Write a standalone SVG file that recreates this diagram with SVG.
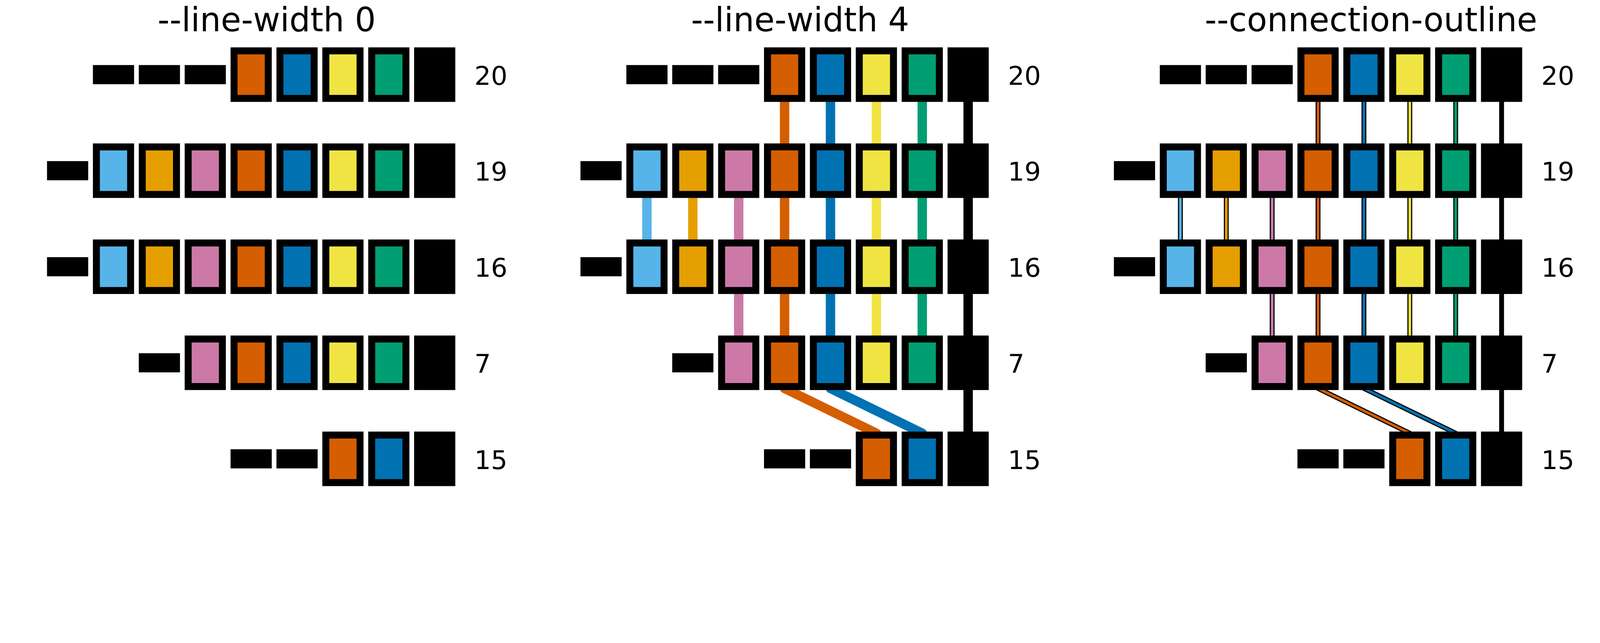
<svg xmlns="http://www.w3.org/2000/svg" width="4934" height="1645" viewBox="0 0 4934 1645" preserveAspectRatio="xMidYMin meet" style="width:100%;height:100%">
<style>
.bg{fill:#fff}
.k{fill:#000}
.sky{fill:#56B4E9}.org{fill:#E69F00}.pnk{fill:#CC79A7}.ver{fill:#D55E00}.blu{fill:#0072B2}.yel{fill:#F0E442}.grn{fill:#009E73}
.t{font-family:"DejaVu Sans","Liberation Sans",sans-serif;fill:#000}
.ttl{font-size:102px;text-anchor:middle}
.lbl{font-size:80px}
.w4{fill:none;stroke-width:29;stroke-linejoin:round;stroke-linecap:butt}
.ol{fill:none;stroke:#000;stroke-width:15;stroke-linejoin:round}
.in{fill:none;stroke-width:8;stroke-linejoin:round}
.s-sky{stroke:#56B4E9}.s-org{stroke:#E69F00}.s-pnk{stroke:#CC79A7}.s-ver{stroke:#D55E00}.s-blu{stroke:#0072B2}.s-yel{stroke:#F0E442}.s-grn{stroke:#009E73}.s-blk{stroke:#000}
</style>
<rect class="bg" x="0" y="0" width="4934" height="1645"/>

<g id="connectors">
  <g id="conn-lw4" transform="translate(1645 0)">
    <path class="w4 s-ver" d="M774.5 230V526"/>
    <path class="w4 s-blu" d="M916 230V526"/>
    <path class="w4 s-yel" d="M1057.5 230V526"/>
    <path class="w4 s-grn" d="M1199 230V526"/>
    <path class="w4 s-blk" d="M1340.5 230V526"/>
    <path class="w4 s-sky" d="M350 526V822"/>
    <path class="w4 s-org" d="M491.5 526V822"/>
    <path class="w4 s-pnk" d="M633 526V822"/>
    <path class="w4 s-ver" d="M774.5 526V822"/>
    <path class="w4 s-blu" d="M916 526V822"/>
    <path class="w4 s-yel" d="M1057.5 526V822"/>
    <path class="w4 s-grn" d="M1199 526V822"/>
    <path class="w4 s-blk" d="M1340.5 526V822"/>
    <path class="w4 s-pnk" d="M633 822V1118"/>
    <path class="w4 s-ver" d="M774.5 822V1118"/>
    <path class="w4 s-blu" d="M916 822V1118"/>
    <path class="w4 s-yel" d="M1057.5 822V1118"/>
    <path class="w4 s-grn" d="M1199 822V1118"/>
    <path class="w4 s-blk" d="M1340.5 822V1118"/>
    <path class="w4 s-ver" d="M774.5 1118V1197L1057.5 1335V1414"/>
    <path class="w4 s-blu" d="M916 1118V1197L1199 1335V1414"/>
    <path class="w4 s-blk" d="M1340.5 1118V1414"/>
  </g>
  <g id="conn-outline" transform="translate(3290 0)">
    <path class="ol" d="M774.5 230V526"/><path class="in s-ver" d="M774.5 230V526"/>
    <path class="ol" d="M916 230V526"/><path class="in s-blu" d="M916 230V526"/>
    <path class="ol" d="M1057.5 230V526"/><path class="in s-yel" d="M1057.5 230V526"/>
    <path class="ol" d="M1199 230V526"/><path class="in s-grn" d="M1199 230V526"/>
    <path class="ol" d="M1340.5 230V526"/>
    <path class="ol" d="M350 526V822"/><path class="in s-sky" d="M350 526V822"/>
    <path class="ol" d="M491.5 526V822"/><path class="in s-org" d="M491.5 526V822"/>
    <path class="ol" d="M633 526V822"/><path class="in s-pnk" d="M633 526V822"/>
    <path class="ol" d="M774.5 526V822"/><path class="in s-ver" d="M774.5 526V822"/>
    <path class="ol" d="M916 526V822"/><path class="in s-blu" d="M916 526V822"/>
    <path class="ol" d="M1057.5 526V822"/><path class="in s-yel" d="M1057.5 526V822"/>
    <path class="ol" d="M1199 526V822"/><path class="in s-grn" d="M1199 526V822"/>
    <path class="ol" d="M1340.5 526V822"/>
    <path class="ol" d="M633 822V1118"/><path class="in s-pnk" d="M633 822V1118"/>
    <path class="ol" d="M774.5 822V1118"/><path class="in s-ver" d="M774.5 822V1118"/>
    <path class="ol" d="M916 822V1118"/><path class="in s-blu" d="M916 822V1118"/>
    <path class="ol" d="M1057.5 822V1118"/><path class="in s-yel" d="M1057.5 822V1118"/>
    <path class="ol" d="M1199 822V1118"/><path class="in s-grn" d="M1199 822V1118"/>
    <path class="ol" d="M1340.5 822V1118"/>
    <path class="ol" d="M774.5 1118V1197L1057.5 1335V1414"/><path class="in s-ver" d="M774.5 1118V1197L1057.5 1335V1414"/>
    <path class="ol" d="M916 1118V1197L1199 1335V1414"/><path class="in s-blu" d="M916 1118V1197L1199 1335V1414"/>
    <path class="ol" d="M1340.5 1118V1414"/>
  </g>
</g>

<g id="panel-lw0">
  <text class="t ttl" x="822.5" y="96">--line-width 0</text>
  <g id="lw0-row20">
    <rect class="k" x="286.5" y="200.5" width="127" height="59"/><rect class="k" x="428" y="200.5" width="127" height="59"/><rect class="k" x="569.5" y="200.5" width="127" height="59"/>
    <g id="lw0-r20-c4"><rect class="k" x="711" y="146" width="127" height="168"/><rect class="ver" x="732.5" y="167.5" width="84" height="125"/></g>
    <g id="lw0-r20-c5"><rect class="k" x="852.5" y="146" width="127" height="168"/><rect class="blu" x="874" y="167.5" width="84" height="125"/></g>
    <g id="lw0-r20-c6"><rect class="k" x="994" y="146" width="127" height="168"/><rect class="yel" x="1015.5" y="167.5" width="84" height="125"/></g>
    <g id="lw0-r20-c7"><rect class="k" x="1135.5" y="146" width="127" height="168"/><rect class="grn" x="1157" y="167.5" width="84" height="125"/></g>
    <g id="lw0-r20-c8"><rect class="k" x="1277" y="146" width="127" height="168"/></g>
    <text class="t lbl" x="1463" y="261">20</text>
  </g>
  <g id="lw0-row19">
    <rect class="k" x="145" y="496.5" width="127" height="59"/>
    <g id="lw0-r19-c1"><rect class="k" x="286.5" y="442" width="127" height="168"/><rect class="sky" x="308" y="463.5" width="84" height="125"/></g>
    <g id="lw0-r19-c2"><rect class="k" x="428" y="442" width="127" height="168"/><rect class="org" x="449.5" y="463.5" width="84" height="125"/></g>
    <g id="lw0-r19-c3"><rect class="k" x="569.5" y="442" width="127" height="168"/><rect class="pnk" x="591" y="463.5" width="84" height="125"/></g>
    <g id="lw0-r19-c4"><rect class="k" x="711" y="442" width="127" height="168"/><rect class="ver" x="732.5" y="463.5" width="84" height="125"/></g>
    <g id="lw0-r19-c5"><rect class="k" x="852.5" y="442" width="127" height="168"/><rect class="blu" x="874" y="463.5" width="84" height="125"/></g>
    <g id="lw0-r19-c6"><rect class="k" x="994" y="442" width="127" height="168"/><rect class="yel" x="1015.5" y="463.5" width="84" height="125"/></g>
    <g id="lw0-r19-c7"><rect class="k" x="1135.5" y="442" width="127" height="168"/><rect class="grn" x="1157" y="463.5" width="84" height="125"/></g>
    <g id="lw0-r19-c8"><rect class="k" x="1277" y="442" width="127" height="168"/></g>
    <text class="t lbl" x="1463" y="557">19</text>
  </g>
  <g id="lw0-row16">
    <rect class="k" x="145" y="792.5" width="127" height="59"/>
    <g id="lw0-r16-c1"><rect class="k" x="286.5" y="738" width="127" height="168"/><rect class="sky" x="308" y="759.5" width="84" height="125"/></g>
    <g id="lw0-r16-c2"><rect class="k" x="428" y="738" width="127" height="168"/><rect class="org" x="449.5" y="759.5" width="84" height="125"/></g>
    <g id="lw0-r16-c3"><rect class="k" x="569.5" y="738" width="127" height="168"/><rect class="pnk" x="591" y="759.5" width="84" height="125"/></g>
    <g id="lw0-r16-c4"><rect class="k" x="711" y="738" width="127" height="168"/><rect class="ver" x="732.5" y="759.5" width="84" height="125"/></g>
    <g id="lw0-r16-c5"><rect class="k" x="852.5" y="738" width="127" height="168"/><rect class="blu" x="874" y="759.5" width="84" height="125"/></g>
    <g id="lw0-r16-c6"><rect class="k" x="994" y="738" width="127" height="168"/><rect class="yel" x="1015.5" y="759.5" width="84" height="125"/></g>
    <g id="lw0-r16-c7"><rect class="k" x="1135.5" y="738" width="127" height="168"/><rect class="grn" x="1157" y="759.5" width="84" height="125"/></g>
    <g id="lw0-r16-c8"><rect class="k" x="1277" y="738" width="127" height="168"/></g>
    <text class="t lbl" x="1463" y="853">16</text>
  </g>
  <g id="lw0-row7">
    <rect class="k" x="428" y="1088.5" width="127" height="59"/>
    <g id="lw0-r7-c3"><rect class="k" x="569.5" y="1034" width="127" height="168"/><rect class="pnk" x="591" y="1055.5" width="84" height="125"/></g>
    <g id="lw0-r7-c4"><rect class="k" x="711" y="1034" width="127" height="168"/><rect class="ver" x="732.5" y="1055.5" width="84" height="125"/></g>
    <g id="lw0-r7-c5"><rect class="k" x="852.5" y="1034" width="127" height="168"/><rect class="blu" x="874" y="1055.5" width="84" height="125"/></g>
    <g id="lw0-r7-c6"><rect class="k" x="994" y="1034" width="127" height="168"/><rect class="yel" x="1015.5" y="1055.5" width="84" height="125"/></g>
    <g id="lw0-r7-c7"><rect class="k" x="1135.5" y="1034" width="127" height="168"/><rect class="grn" x="1157" y="1055.5" width="84" height="125"/></g>
    <g id="lw0-r7-c8"><rect class="k" x="1277" y="1034" width="127" height="168"/></g>
    <text class="t lbl" x="1463" y="1149">7</text>
  </g>
  <g id="lw0-row15">
    <rect class="k" x="711" y="1384.5" width="127" height="59"/><rect class="k" x="852.5" y="1384.5" width="127" height="59"/>
    <g id="lw0-r15-c6"><rect class="k" x="994" y="1330" width="127" height="168"/><rect class="ver" x="1015.5" y="1351.5" width="84" height="125"/></g>
    <g id="lw0-r15-c7"><rect class="k" x="1135.5" y="1330" width="127" height="168"/><rect class="blu" x="1157" y="1351.5" width="84" height="125"/></g>
    <g id="lw0-r15-c8"><rect class="k" x="1277" y="1330" width="127" height="168"/></g>
    <text class="t lbl" x="1463" y="1445">15</text>
  </g>
</g>

<g id="panel-lw4" transform="translate(1645 0)">
  <text class="t ttl" x="822.5" y="96">--line-width 4</text>
  <g id="lw4-row20">
    <rect class="k" x="286.5" y="200.5" width="127" height="59"/><rect class="k" x="428" y="200.5" width="127" height="59"/><rect class="k" x="569.5" y="200.5" width="127" height="59"/>
    <g id="lw4-r20-c4"><rect class="k" x="711" y="146" width="127" height="168"/><rect class="ver" x="732.5" y="167.5" width="84" height="125"/></g>
    <g id="lw4-r20-c5"><rect class="k" x="852.5" y="146" width="127" height="168"/><rect class="blu" x="874" y="167.5" width="84" height="125"/></g>
    <g id="lw4-r20-c6"><rect class="k" x="994" y="146" width="127" height="168"/><rect class="yel" x="1015.5" y="167.5" width="84" height="125"/></g>
    <g id="lw4-r20-c7"><rect class="k" x="1135.5" y="146" width="127" height="168"/><rect class="grn" x="1157" y="167.5" width="84" height="125"/></g>
    <g id="lw4-r20-c8"><rect class="k" x="1277" y="146" width="127" height="168"/></g>
    <text class="t lbl" x="1463" y="261">20</text>
  </g>
  <g id="lw4-row19">
    <rect class="k" x="145" y="496.5" width="127" height="59"/>
    <g id="lw4-r19-c1"><rect class="k" x="286.5" y="442" width="127" height="168"/><rect class="sky" x="308" y="463.5" width="84" height="125"/></g>
    <g id="lw4-r19-c2"><rect class="k" x="428" y="442" width="127" height="168"/><rect class="org" x="449.5" y="463.5" width="84" height="125"/></g>
    <g id="lw4-r19-c3"><rect class="k" x="569.5" y="442" width="127" height="168"/><rect class="pnk" x="591" y="463.5" width="84" height="125"/></g>
    <g id="lw4-r19-c4"><rect class="k" x="711" y="442" width="127" height="168"/><rect class="ver" x="732.5" y="463.5" width="84" height="125"/></g>
    <g id="lw4-r19-c5"><rect class="k" x="852.5" y="442" width="127" height="168"/><rect class="blu" x="874" y="463.5" width="84" height="125"/></g>
    <g id="lw4-r19-c6"><rect class="k" x="994" y="442" width="127" height="168"/><rect class="yel" x="1015.5" y="463.5" width="84" height="125"/></g>
    <g id="lw4-r19-c7"><rect class="k" x="1135.5" y="442" width="127" height="168"/><rect class="grn" x="1157" y="463.5" width="84" height="125"/></g>
    <g id="lw4-r19-c8"><rect class="k" x="1277" y="442" width="127" height="168"/></g>
    <text class="t lbl" x="1463" y="557">19</text>
  </g>
  <g id="lw4-row16">
    <rect class="k" x="145" y="792.5" width="127" height="59"/>
    <g id="lw4-r16-c1"><rect class="k" x="286.5" y="738" width="127" height="168"/><rect class="sky" x="308" y="759.5" width="84" height="125"/></g>
    <g id="lw4-r16-c2"><rect class="k" x="428" y="738" width="127" height="168"/><rect class="org" x="449.5" y="759.5" width="84" height="125"/></g>
    <g id="lw4-r16-c3"><rect class="k" x="569.5" y="738" width="127" height="168"/><rect class="pnk" x="591" y="759.5" width="84" height="125"/></g>
    <g id="lw4-r16-c4"><rect class="k" x="711" y="738" width="127" height="168"/><rect class="ver" x="732.5" y="759.5" width="84" height="125"/></g>
    <g id="lw4-r16-c5"><rect class="k" x="852.5" y="738" width="127" height="168"/><rect class="blu" x="874" y="759.5" width="84" height="125"/></g>
    <g id="lw4-r16-c6"><rect class="k" x="994" y="738" width="127" height="168"/><rect class="yel" x="1015.5" y="759.5" width="84" height="125"/></g>
    <g id="lw4-r16-c7"><rect class="k" x="1135.5" y="738" width="127" height="168"/><rect class="grn" x="1157" y="759.5" width="84" height="125"/></g>
    <g id="lw4-r16-c8"><rect class="k" x="1277" y="738" width="127" height="168"/></g>
    <text class="t lbl" x="1463" y="853">16</text>
  </g>
  <g id="lw4-row7">
    <rect class="k" x="428" y="1088.5" width="127" height="59"/>
    <g id="lw4-r7-c3"><rect class="k" x="569.5" y="1034" width="127" height="168"/><rect class="pnk" x="591" y="1055.5" width="84" height="125"/></g>
    <g id="lw4-r7-c4"><rect class="k" x="711" y="1034" width="127" height="168"/><rect class="ver" x="732.5" y="1055.5" width="84" height="125"/></g>
    <g id="lw4-r7-c5"><rect class="k" x="852.5" y="1034" width="127" height="168"/><rect class="blu" x="874" y="1055.5" width="84" height="125"/></g>
    <g id="lw4-r7-c6"><rect class="k" x="994" y="1034" width="127" height="168"/><rect class="yel" x="1015.5" y="1055.5" width="84" height="125"/></g>
    <g id="lw4-r7-c7"><rect class="k" x="1135.5" y="1034" width="127" height="168"/><rect class="grn" x="1157" y="1055.5" width="84" height="125"/></g>
    <g id="lw4-r7-c8"><rect class="k" x="1277" y="1034" width="127" height="168"/></g>
    <text class="t lbl" x="1463" y="1149">7</text>
  </g>
  <g id="lw4-row15">
    <rect class="k" x="711" y="1384.5" width="127" height="59"/><rect class="k" x="852.5" y="1384.5" width="127" height="59"/>
    <g id="lw4-r15-c6"><rect class="k" x="994" y="1330" width="127" height="168"/><rect class="ver" x="1015.5" y="1351.5" width="84" height="125"/></g>
    <g id="lw4-r15-c7"><rect class="k" x="1135.5" y="1330" width="127" height="168"/><rect class="blu" x="1157" y="1351.5" width="84" height="125"/></g>
    <g id="lw4-r15-c8"><rect class="k" x="1277" y="1330" width="127" height="168"/></g>
    <text class="t lbl" x="1463" y="1445">15</text>
  </g>
</g>

<g id="panel-outline" transform="translate(3290 0)">
  <text class="t ttl" x="938" y="96">--connection-outline</text>
  <g id="ol-row20">
    <rect class="k" x="286.5" y="200.5" width="127" height="59"/><rect class="k" x="428" y="200.5" width="127" height="59"/><rect class="k" x="569.5" y="200.5" width="127" height="59"/>
    <g id="ol-r20-c4"><rect class="k" x="711" y="146" width="127" height="168"/><rect class="ver" x="732.5" y="167.5" width="84" height="125"/></g>
    <g id="ol-r20-c5"><rect class="k" x="852.5" y="146" width="127" height="168"/><rect class="blu" x="874" y="167.5" width="84" height="125"/></g>
    <g id="ol-r20-c6"><rect class="k" x="994" y="146" width="127" height="168"/><rect class="yel" x="1015.5" y="167.5" width="84" height="125"/></g>
    <g id="ol-r20-c7"><rect class="k" x="1135.5" y="146" width="127" height="168"/><rect class="grn" x="1157" y="167.5" width="84" height="125"/></g>
    <g id="ol-r20-c8"><rect class="k" x="1277" y="146" width="127" height="168"/></g>
    <text class="t lbl" x="1463" y="261">20</text>
  </g>
  <g id="ol-row19">
    <rect class="k" x="145" y="496.5" width="127" height="59"/>
    <g id="ol-r19-c1"><rect class="k" x="286.5" y="442" width="127" height="168"/><rect class="sky" x="308" y="463.5" width="84" height="125"/></g>
    <g id="ol-r19-c2"><rect class="k" x="428" y="442" width="127" height="168"/><rect class="org" x="449.5" y="463.5" width="84" height="125"/></g>
    <g id="ol-r19-c3"><rect class="k" x="569.5" y="442" width="127" height="168"/><rect class="pnk" x="591" y="463.5" width="84" height="125"/></g>
    <g id="ol-r19-c4"><rect class="k" x="711" y="442" width="127" height="168"/><rect class="ver" x="732.5" y="463.5" width="84" height="125"/></g>
    <g id="ol-r19-c5"><rect class="k" x="852.5" y="442" width="127" height="168"/><rect class="blu" x="874" y="463.5" width="84" height="125"/></g>
    <g id="ol-r19-c6"><rect class="k" x="994" y="442" width="127" height="168"/><rect class="yel" x="1015.5" y="463.5" width="84" height="125"/></g>
    <g id="ol-r19-c7"><rect class="k" x="1135.5" y="442" width="127" height="168"/><rect class="grn" x="1157" y="463.5" width="84" height="125"/></g>
    <g id="ol-r19-c8"><rect class="k" x="1277" y="442" width="127" height="168"/></g>
    <text class="t lbl" x="1463" y="557">19</text>
  </g>
  <g id="ol-row16">
    <rect class="k" x="145" y="792.5" width="127" height="59"/>
    <g id="ol-r16-c1"><rect class="k" x="286.5" y="738" width="127" height="168"/><rect class="sky" x="308" y="759.5" width="84" height="125"/></g>
    <g id="ol-r16-c2"><rect class="k" x="428" y="738" width="127" height="168"/><rect class="org" x="449.5" y="759.5" width="84" height="125"/></g>
    <g id="ol-r16-c3"><rect class="k" x="569.5" y="738" width="127" height="168"/><rect class="pnk" x="591" y="759.5" width="84" height="125"/></g>
    <g id="ol-r16-c4"><rect class="k" x="711" y="738" width="127" height="168"/><rect class="ver" x="732.5" y="759.5" width="84" height="125"/></g>
    <g id="ol-r16-c5"><rect class="k" x="852.5" y="738" width="127" height="168"/><rect class="blu" x="874" y="759.5" width="84" height="125"/></g>
    <g id="ol-r16-c6"><rect class="k" x="994" y="738" width="127" height="168"/><rect class="yel" x="1015.5" y="759.5" width="84" height="125"/></g>
    <g id="ol-r16-c7"><rect class="k" x="1135.5" y="738" width="127" height="168"/><rect class="grn" x="1157" y="759.5" width="84" height="125"/></g>
    <g id="ol-r16-c8"><rect class="k" x="1277" y="738" width="127" height="168"/></g>
    <text class="t lbl" x="1463" y="853">16</text>
  </g>
  <g id="ol-row7">
    <rect class="k" x="428" y="1088.5" width="127" height="59"/>
    <g id="ol-r7-c3"><rect class="k" x="569.5" y="1034" width="127" height="168"/><rect class="pnk" x="591" y="1055.5" width="84" height="125"/></g>
    <g id="ol-r7-c4"><rect class="k" x="711" y="1034" width="127" height="168"/><rect class="ver" x="732.5" y="1055.5" width="84" height="125"/></g>
    <g id="ol-r7-c5"><rect class="k" x="852.5" y="1034" width="127" height="168"/><rect class="blu" x="874" y="1055.5" width="84" height="125"/></g>
    <g id="ol-r7-c6"><rect class="k" x="994" y="1034" width="127" height="168"/><rect class="yel" x="1015.5" y="1055.5" width="84" height="125"/></g>
    <g id="ol-r7-c7"><rect class="k" x="1135.5" y="1034" width="127" height="168"/><rect class="grn" x="1157" y="1055.5" width="84" height="125"/></g>
    <g id="ol-r7-c8"><rect class="k" x="1277" y="1034" width="127" height="168"/></g>
    <text class="t lbl" x="1463" y="1149">7</text>
  </g>
  <g id="ol-row15">
    <rect class="k" x="711" y="1384.5" width="127" height="59"/><rect class="k" x="852.5" y="1384.5" width="127" height="59"/>
    <g id="ol-r15-c6"><rect class="k" x="994" y="1330" width="127" height="168"/><rect class="ver" x="1015.5" y="1351.5" width="84" height="125"/></g>
    <g id="ol-r15-c7"><rect class="k" x="1135.5" y="1330" width="127" height="168"/><rect class="blu" x="1157" y="1351.5" width="84" height="125"/></g>
    <g id="ol-r15-c8"><rect class="k" x="1277" y="1330" width="127" height="168"/></g>
    <text class="t lbl" x="1463" y="1445">15</text>
  </g>
</g>
</svg>
